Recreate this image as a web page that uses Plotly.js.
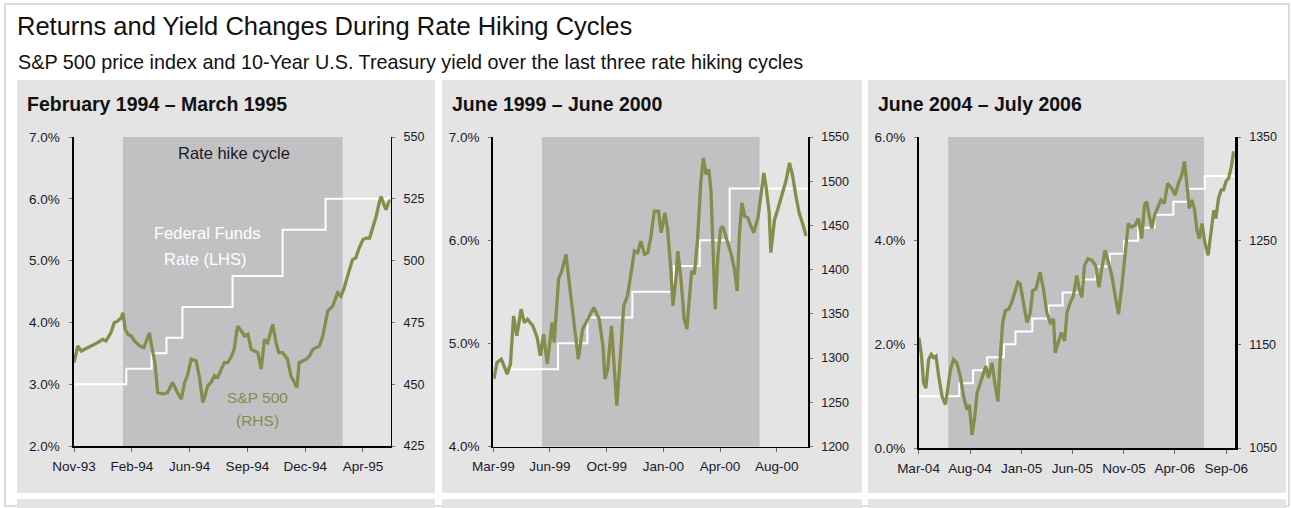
<!DOCTYPE html>
<html>
<head>
<meta charset="utf-8">
<script src="https://cdn.plot.ly/plotly-3.0.1.min.js"></script>
<style>html,body{margin:0;padding:0;background:#fff;}#chart{width:1291px;height:508px;}</style>
</head>
<body>
<div id="chart"></div>
<script>
// ---------------- DATA ----------------
const chartTitle = 'Returns and Yield Changes During Rate Hiking Cycles';
const chartSubtitle = 'S&P 500 price index and 10-Year U.S. Treasury yield over the last three rate hiking cycles';
const panelTitles = ['February 1994 \u2013 March 1995', 'June 1999 \u2013 June 2000', 'June 2004 \u2013 July 2006'];

// Panel 1: 1993-1995
const spx1Dates = ['1993-11-01','1993-11-08','1993-11-14','1993-11-20','1993-11-26','1993-12-05','1993-12-14','1993-12-23','1993-12-29',
 '1994-01-07','1994-01-13','1994-01-19','1994-01-26','1994-01-29','1994-02-02','1994-02-07','1994-02-13','1994-02-19','1994-02-28',
 '1994-03-08','1994-03-15','1994-03-18','1994-03-22','1994-03-28','1994-04-02','1994-04-11','1994-04-20','1994-04-29',
 '1994-05-08','1994-05-15','1994-05-21','1994-05-26','1994-06-02','1994-06-11','1994-06-17','1994-06-23','1994-06-27',
 '1994-07-02','1994-07-08','1994-07-14','1994-07-20','1994-07-26','1994-08-01','1994-08-07','1994-08-13','1994-08-19','1994-08-25',
 '1994-09-01','1994-09-07','1994-09-13','1994-09-19','1994-09-25','1994-10-01','1994-10-07','1994-10-13','1994-10-19','1994-10-25','1994-10-28',
 '1994-11-03','1994-11-08','1994-11-15','1994-11-24','1994-11-30','1994-12-06','1994-12-11','1994-12-15','1994-12-22','1994-12-28',
 '1995-01-03','1995-01-09','1995-01-15','1995-01-21','1995-01-27','1995-02-05','1995-02-14','1995-02-23',
 '1995-03-01','1995-03-07','1995-03-13','1995-03-22','1995-03-28','1995-04-03','1995-04-10','1995-04-16','1995-04-22','1995-04-28',
 '1995-05-04','1995-05-10','1995-05-13','1995-05-18','1995-05-22','1995-05-26','1995-05-30'];
const spx1Values = [458.7,465.5,463.4,464.1,464.8,465.5,466.8,468.1,467.5,
 470.8,474.9,475.5,476.9,478.9,472.2,470.2,469.5,467.5,465.5,
 464.8,469.5,470.8,465.5,458.7,446.6,446.0,446.6,450.7,
 446.6,444.0,450.7,453.4,460.1,459.4,452.7,442.6,445.3,
 449.3,450.7,453.4,452.7,456.1,458.7,458.7,460.8,464.1,473.5,
 471.5,469.5,470.2,464.1,463.4,462.8,456.1,468.1,466.8,472.2,474.2,
 466.8,462.8,462.8,460.1,453.4,450.7,448.7,458.7,459.4,460.1,
 461.4,464.1,464.8,465.5,469.5,479.6,481.6,487.0,
 485.6,489.0,493.7,500.4,501.1,505.1,508.5,509.1,509.1,513.8,
 517.9,523.9,525.9,522.6,520.6,523.3,524.6];
const ff1Dates = ['1993-11-01','1994-02-04','1994-03-22','1994-04-18','1994-05-17','1994-08-16','1994-11-15','1995-02-01','1995-05-30'];
const ff1Rates = [3.0,3.25,3.5,3.75,4.25,4.75,5.5,6.0,6.0];
const hike1 = ['1994-01-29','1995-03-04'];
const x1Range = ['1993-11-01','1995-05-30'];
const x1TickVals = ['1993-11-01','1994-02-14','1994-05-30','1994-09-12','1994-12-26','1995-04-10'];
const x1TickText = ['Nov-93','Feb-94','Jun-94','Sep-94','Dec-94','Apr-95'];
const y1Left = [2, 7, 1];
const y1Right = [425, 550, 25];

// Panel 2: 1999-2000
const spx2Dates = ['1999-03-02','1999-03-08','1999-03-16','1999-03-22','1999-03-27','1999-04-02','1999-04-08','1999-04-14','1999-04-22','1999-04-28',
 '1999-05-04','1999-05-14','1999-05-22','1999-05-28','1999-06-03','1999-06-10','1999-06-15','1999-06-19','1999-06-23',
 '1999-07-01','1999-07-07','1999-07-15','1999-07-21','1999-07-28','1999-08-03','1999-08-07','1999-08-15','1999-08-25',
 '1999-09-05','1999-09-15','1999-09-22','1999-09-26','1999-10-01','1999-10-08','1999-10-13','1999-10-18','1999-10-26','1999-10-31',
 '1999-11-07','1999-11-14','1999-11-20','1999-11-26','1999-12-02','1999-12-09','1999-12-15','1999-12-21','1999-12-27',
 '2000-01-04','2000-01-09','2000-01-16','2000-01-21','2000-01-27','2000-01-31','2000-02-06','2000-02-09','2000-02-15','2000-02-21','2000-02-26',
 '2000-03-02','2000-03-06','2000-03-11','2000-03-17','2000-03-23','2000-03-28','2000-04-02','2000-04-07','2000-04-11','2000-04-16','2000-04-19','2000-04-24','2000-04-29',
 '2000-05-03','2000-05-11','2000-05-19','2000-05-25','2000-05-30','2000-06-03','2000-06-08','2000-06-13','2000-06-19','2000-06-25','2000-06-30',
 '2000-07-08','2000-07-13','2000-07-19','2000-07-23','2000-07-29','2000-08-01','2000-08-08','2000-08-14','2000-08-23','2000-08-30',
 '2000-09-05','2000-09-11','2000-09-17','2000-09-23','2000-09-30','2000-10-06'];
const spx2Values = [1276.3,1295.1,1298.8,1289.4,1281.9,1293.2,1347.7,1325.2,1355.2,1340.2,
 1344.0,1336.4,1323.3,1302.6,1327.0,1293.2,1317.6,1340.2,1317.6,
 1389.1,1398.5,1417.3,1385.3,1347.7,1313.9,1298.8,1332.7,1344.0,
 1357.1,1344.0,1313.9,1276.3,1287.6,1336.4,1287.6,1246.2,1313.9,1359.0,
 1370.3,1396.6,1421.0,1419.2,1432.3,1417.3,1419.2,1438.0,1466.2,
 1466.2,1441.7,1464.3,1445.5,1400.4,1359.0,1392.8,1421.0,1389.1,1344.0,1332.7,
 1370.3,1398.5,1394.7,1434.2,1498.1,1526.3,1507.5,1513.2,1490.6,1407.9,1355.2,1415.4,1445.5,
 1449.2,1432.3,1417.3,1400.4,1375.9,1438.0,1475.6,1460.5,1458.6,1449.2,1441.7,
 1458.6,1483.1,1509.4,1494.4,1464.3,1419.2,1456.8,1468.0,1486.8,1501.9,
 1520.7,1505.6,1483.1,1464.3,1451.1,1438.0];
const ff2Dates = ['1999-04-01','1999-06-30','1999-08-24','1999-11-16','2000-02-02','2000-03-21','2000-05-16','2000-10-09'];
const ff2Rates = [4.75,5.0,5.25,5.5,5.75,6.0,6.5,6.5];
const hike2 = ['1999-05-31','2000-07-11'];
const x2Range = ['1999-03-01','2000-10-09'];
const x2TickVals = ['1999-03-01','1999-06-15','1999-09-29','2000-01-13','2000-04-28','2000-08-12'];
const x2TickText = ['Mar-99','Jun-99','Oct-99','Jan-00','Apr-00','Aug-00'];
const y2Left = [4, 7, 1];
const y2Right = [1200, 1550, 50];

// Panel 3: 2004-2006
const spx3Dates = ['2004-03-02','2004-03-10','2004-03-16','2004-03-23','2004-03-31','2004-04-08','2004-04-15','2004-04-22','2004-04-30',
 '2004-05-10','2004-05-20','2004-05-28','2004-06-04','2004-06-13','2004-06-23','2004-07-03','2004-07-13','2004-07-23','2004-07-30',
 '2004-08-07','2004-08-15','2004-08-22','2004-08-31','2004-09-10','2004-09-17','2004-09-25','2004-10-05','2004-10-15','2004-10-23','2004-10-30',
 '2004-11-06','2004-11-14','2004-11-24','2004-12-03','2004-12-13','2004-12-21','2004-12-28',
 '2005-01-07','2005-01-17','2005-01-27','2005-02-03','2005-02-13','2005-02-25','2005-03-07','2005-03-17','2005-03-27',
 '2005-04-06','2005-04-11','2005-04-19','2005-04-29','2005-05-09','2005-05-16','2005-05-26','2005-06-04','2005-06-14','2005-06-21','2005-06-29',
 '2005-07-07','2005-07-17','2005-07-29','2005-08-09','2005-08-19','2005-08-27','2005-09-06','2005-09-16','2005-09-26',
 '2005-10-06','2005-10-16','2005-10-26','2005-11-04','2005-11-14','2005-11-24','2005-12-04','2005-12-14','2005-12-24',
 '2006-01-01','2006-01-08','2006-01-15','2006-01-23','2006-01-31','2006-02-09','2006-02-19','2006-03-01','2006-03-11','2006-03-23',
 '2006-04-02','2006-04-12','2006-04-22','2006-04-30','2006-05-07','2006-05-14','2006-05-22','2006-05-30',
 '2006-06-06','2006-06-13','2006-06-21','2006-06-29','2006-07-09','2006-07-19','2006-07-26',
 '2006-08-01','2006-08-09','2006-08-17','2006-08-24','2006-08-31','2006-09-08','2006-09-16','2006-09-23','2006-09-26'];
const spx3Values = [1156.5,1138.7,1112.8,1107.9,1135.5,1140.3,1137.1,1138.7,1119.3,
 1099.9,1091.8,1112.8,1125.7,1135.5,1132.2,1119.3,1099.9,1086.9,1091.8,
 1062.6,1080.4,1103.1,1112.8,1122.5,1129.0,1117.7,1132.2,1109.6,1095.0,1138.7,
 1171.0,1182.4,1184.0,1190.5,1200.2,1209.9,1208.3,
 1190.5,1171.0,1180.8,1201.8,1203.4,1219.6,1203.4,1180.8,1171.0,
 1174.3,1141.9,1150.0,1161.3,1153.3,1180.8,1190.5,1196.9,1216.4,1203.4,1195.3,
 1226.1,1232.5,1230.9,1226.1,1205.0,1222.8,1240.6,1229.3,1216.4,
 1196.9,1179.1,1206.6,1235.8,1266.5,1263.3,1264.9,1271.4,1252.0,
 1284.3,1287.5,1274.6,1261.7,1274.6,1281.1,1289.2,1285.9,1305.3,1300.5,
 1294.0,1305.3,1313.4,1326.4,1303.7,1281.1,1289.2,1279.5,
 1260.0,1252.0,1266.5,1248.7,1235.8,1260.0,1279.5,
 1271.4,1290.8,1298.9,1298.9,1307.0,1310.2,1321.5,1336.1,1329.6];
const ff3Dates = ['2004-03-01','2004-06-30','2004-08-10','2004-09-21','2004-11-10','2004-12-14','2005-02-02','2005-03-22','2005-05-03',
 '2005-06-30','2005-08-09','2005-09-20','2005-11-01','2005-12-13','2006-01-31','2006-03-28','2006-05-10','2006-06-29','2006-09-26'];
const ff3Rates = [1.0,1.25,1.5,1.75,2.0,2.25,2.5,2.75,3.0,3.25,3.5,3.75,4.0,4.25,4.5,4.75,5.0,5.25,5.25];
const hike3 = ['2004-05-28','2006-06-27'];
const x3Range = ['2004-03-01','2006-09-26'];
const x3TickVals = ['2004-03-01','2004-08-01','2005-01-01','2005-06-01','2005-11-01','2006-04-01','2006-09-01'];
const x3TickText = ['Mar-04','Aug-04','Jan-05','Jun-05','Nov-05','Apr-06','Sep-06'];
const y3Left = [0, 6, 2];
const y3Right = [1050, 1350, 100];

// ---------------- STYLE / LAYOUT ----------------
const W = 1291, H = 508;
const px = x => x / W;
const py = y => 1 - y / H;
const FONT = 'Liberation Sans, Arial, Helvetica, sans-serif';
const GREEN = '#868c4b';
const SHADE = '#c1c1c3';
const PANEL = '#e4e4e4';
const TXT = '#1a1a2a';

const panels = [
  {l: 74, r: 390.5, t: 137, b: 446, xr: x1Range, tv: x1TickVals, tt: x1TickText, yl: y1Left, yr: y1Right, hike: hike1,
   spxD: spx1Dates, spxV: spx1Values, ffD: ff1Dates, ffV: ff1Rates, lw: 2.5, rw: 1.5, px0: 17, px1: 435},
  {l: 493.3, r: 807.7, t: 137, b: 446.5, xr: x2Range, tv: x2TickVals, tt: x2TickText, yl: y2Left, yr: y2Right, hike: hike2,
   spxD: spx2Dates, spxV: spx2Values, ffD: ff2Dates, ffV: ff2Rates, lw: 2, rw: 2, px0: 442, px1: 862},
  {l: 918.5, r: 1234.7, t: 137, b: 448, xr: x3Range, tv: x3TickVals, tt: x3TickText, yl: y3Left, yr: y3Right, hike: hike3,
   spxD: spx3Dates, spxV: spx3Values, ffD: ff3Dates, ffV: ff3Rates, lw: 1.5, rw: 3, px0: 868, px1: 1286}
];

const traces = [];
const layout = {
  width: W, height: H,
  margin: {l: 0, r: 0, t: 0, b: 0, pad: 0},
  paper_bgcolor: '#ffffff',
  plot_bgcolor: 'rgba(0,0,0,0)',
  showlegend: false,
  font: {family: FONT, color: TXT},
  title: {text: chartTitle, x: 17 / W, xanchor: 'left', xref: 'container', y: 1 - 26 / H, yanchor: 'middle', yref: 'container',
          font: {family: FONT, size: 25.5, color: '#111'}},
  shapes: [],
  annotations: []
};

// page frame
layout.shapes.push({type: 'rect', xref: 'paper', yref: 'paper', x0: px(5), x1: px(1289), y0: py(506), y1: py(4),
  line: {color: '#dcdcdc', width: 2}, fillcolor: 'rgba(0,0,0,0)', layer: 'below'});

layout.annotations.push({text: chartSubtitle, xref: 'paper', yref: 'paper', x: px(16), y: py(62), xanchor: 'left', yanchor: 'middle',
  showarrow: false, font: {family: FONT, size: 19.8, color: '#111'}});

panels.forEach((p, i) => {
  const n = i + 1;
  const xa = n === 1 ? 'x' : 'x' + n;
  const yaL = 'y' + (n === 1 ? '' : (2 * n - 1));
  const yaR = 'y' + (2 * n);
  const xKey = n === 1 ? 'xaxis' : 'xaxis' + n;
  const yLKey = n === 1 ? 'yaxis' : 'yaxis' + (2 * n - 1);
  const yRKey = 'yaxis' + (2 * n);

  // panel backgrounds
  layout.shapes.push({type: 'rect', xref: 'paper', yref: 'paper', x0: px(p.px0), x1: px(p.px1), y0: py(493), y1: py(80),
    line: {width: 0}, fillcolor: PANEL, layer: 'below'});
  layout.shapes.push({type: 'rect', xref: 'paper', yref: 'paper', x0: px(p.px0), x1: px(p.px1), y0: py(508), y1: py(499),
    line: {width: 0}, fillcolor: PANEL, layer: 'below'});
  // rate hike shading
  layout.shapes.push({type: 'rect', xref: xa, yref: yaL + ' domain', x0: p.hike[0], x1: p.hike[1], y0: 0, y1: 1,
    line: {width: 0}, fillcolor: SHADE, layer: 'below'});

  const tickfontA = {family: FONT, size: 13.5, color: TXT};
  const tickfontR = {family: FONT, size: 12.5, color: TXT};
  layout[xKey] = {
    domain: [px(p.l), px(p.r)], anchor: yaL, type: 'date', range: p.xr,
    tickmode: 'array', tickvals: p.tv, ticktext: p.tt,
    ticks: 'outside', ticklen: 4, tickwidth: 1, tickcolor: '#666',
    showline: true, linecolor: '#000', linewidth: 1.5,
    showgrid: false, zeroline: false, tickfont: tickfontA, ticklabelstandoff: 3, fixedrange: true
  };
  layout[yLKey] = {
    domain: [py(p.b), py(p.t)], anchor: xa, range: [p.yl[0], p.yl[1]], tick0: p.yl[0], dtick: p.yl[2],
    tickformat: '.1f', ticksuffix: '%',
    ticks: 'outside', ticklen: 3, tickwidth: 1, tickcolor: '#777',
    showline: true, linecolor: '#000', linewidth: p.lw,
    showgrid: false, zeroline: false, tickfont: tickfontA, ticklabelstandoff: 6, fixedrange: true
  };
  layout[yRKey] = {
    overlaying: yaL, side: 'right', anchor: xa, range: [p.yr[0], p.yr[1]], tick0: p.yr[0], dtick: p.yr[2],
    ticks: 'outside', ticklen: 3, tickwidth: 1, tickcolor: '#777',
    showline: true, linecolor: '#000', linewidth: p.rw,
    showgrid: false, zeroline: false, tickfont: tickfontR, ticklabelstandoff: 6, fixedrange: true
  };

  traces.push({type: 'scatter', mode: 'lines', x: p.ffD, y: p.ffV, xaxis: xa, yaxis: yaL,
    line: {color: '#ffffff', width: 2, shape: 'hv'}, hoverinfo: 'skip'});
  traces.push({type: 'scatter', mode: 'lines', x: p.spxD, y: p.spxV, xaxis: xa, yaxis: yaR,
    line: {color: GREEN, width: 3.3}, hoverinfo: 'skip'});

  layout.annotations.push({text: '<b>' + panelTitles[i] + '</b>', xref: 'paper', yref: 'paper', x: px(p.px0 + 8), y: py(104),
    xanchor: 'left', yanchor: 'middle', showarrow: false, font: {family: FONT, size: 19.5, color: '#111'}});
});

// panel 1 labels
const lab = (t, x, y, size, color) => layout.annotations.push({text: t, xref: 'paper', yref: 'paper', x: px(x), y: py(y),
  xanchor: 'center', yanchor: 'middle', showarrow: false, font: {family: FONT, size: size, color: color}});
lab('Rate hike cycle', 234, 153, 16.5, '#1a1a2a');
lab('Federal Funds', 207, 233, 16.5, '#ffffff');
lab('Rate (LHS)', 205, 259, 16.5, '#ffffff');
lab('S&P 500', 257, 397, 15.5, GREEN);
lab('(RHS)', 257, 420, 15.5, GREEN);

Plotly.newPlot('chart', traces, layout, {displayModeBar: false, staticPlot: true});
</script>
</body>
</html>
